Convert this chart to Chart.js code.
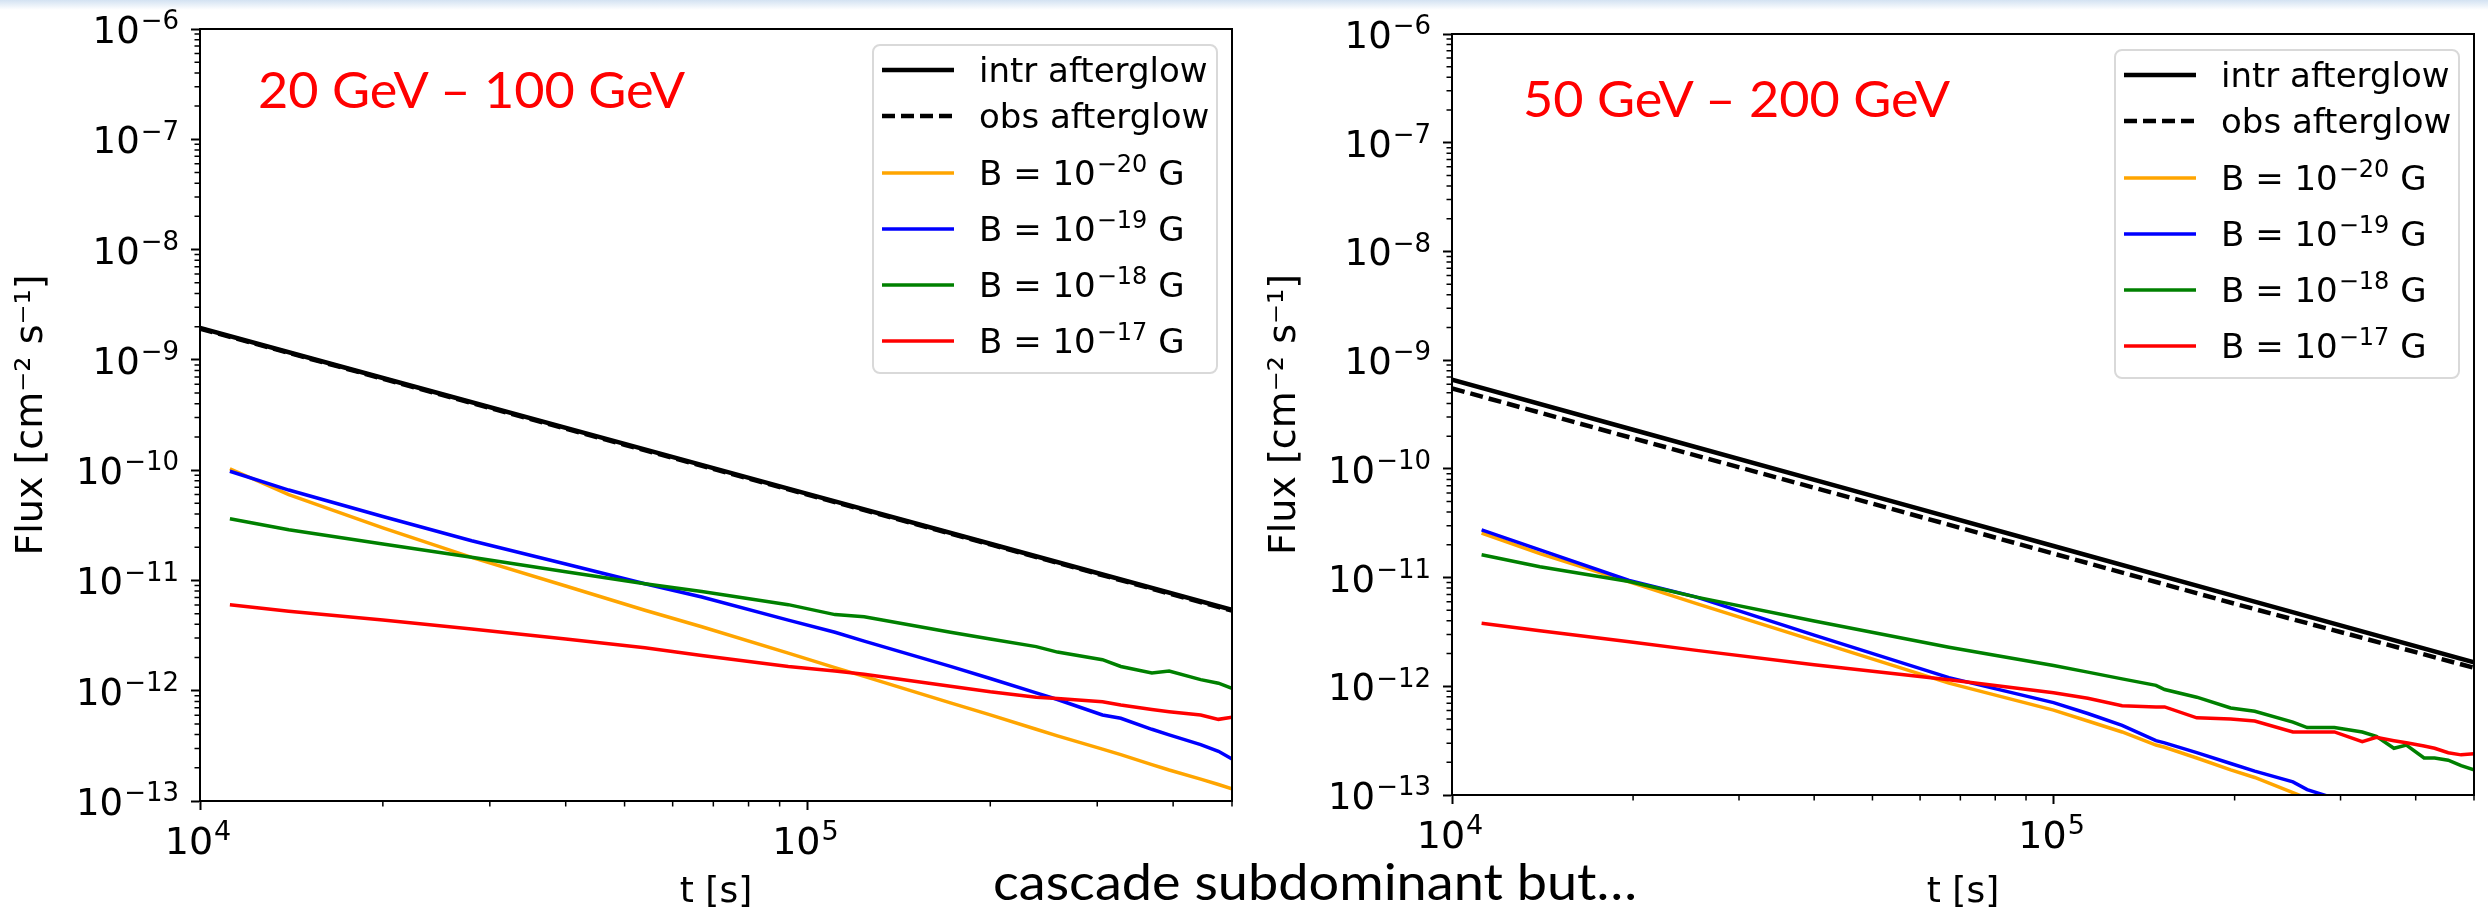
<!DOCTYPE html>
<html>
<head>
<meta charset="utf-8">
<script src="https://cdn.jsdelivr.net/npm/chart.js@4.4.1/dist/chart.umd.min.js"></script>
<style>
  body { margin: 0; width: 2488px; height: 911px; background: #fff; overflow: hidden; position: relative; }
  .strip { position: absolute; left: 0; top: 0; width: 2488px; height: 10px; background: linear-gradient(#d3e2f2, #ffffff); }
  canvas { position: absolute; top: 0; }
  .note { position: absolute; white-space: nowrap; font-family: Lato, "Open Sans", sans-serif; transform-origin: 0 0; }
</style>
</head>
<body>
<div class="strip"></div>
<canvas id="left" width="1260" height="911" style="left:0"></canvas>
<canvas id="right" width="1228" height="911" style="left:1260px"></canvas>
<div class="note" id="lblLeft" style="left:258px; top:64px; font-size:50px; line-height:50px; color:#ff0000">20 GeV – 100 GeV</div>
<div class="note" id="lblRight" style="left:1523px; top:73px; font-size:50px; line-height:50px; color:#ff0000">50 GeV – 200 GeV</div>
<div class="note" id="caption" style="left:993px; top:855px; font-size:51px; line-height:51px; color:#000">cascade subdominant but…</div>
<script>
// tick values
const yDecades = [-13, -12, -11, -10, -9, -8, -7, -6];
const xDecades = [4, 5];
const minorSteps = [2, 3, 4, 5, 6, 7, 8, 9];
const xMax = 5e5;

// legend texts, ^{...} marks the exponent
const labels = ['intr afterglow', 'obs afterglow', 'B = 10^{−20} G', 'B = 10^{−19} G', 'B = 10^{−18} G', 'B = 10^{−17} G'];

// afterglow, both panels
const tAfter = [1e4, 2e4, 5e4, 1e5, 2e5, 5e5];
const leftIntr = [1.95e-9, 6.85e-10, 1.73e-10, 6.10e-11, 2.15e-11, 5.40e-12];
const leftObs = [1.92e-9, 6.75e-10, 1.70e-10, 6.00e-11, 2.12e-11, 5.32e-12];
const rightIntr = [6.61e-10, 2.29e-10, 5.64e-11, 1.95e-11, 6.76e-12, 1.66e-12];
const rightObs = [5.50e-10, 1.91e-10, 4.79e-11, 1.66e-11, 5.75e-12, 1.48e-12];

// 20 GeV - 100 GeV cascades
const tLeft = [11200, 14000, 20000, 28000, 40000, 54000, 67000, 93000, 111000, 124000, 172000,
  200000, 238000, 258000, 306000, 328000, 369000, 394000, 444000, 475000, 500000];
const leftB20 = [1.03e-10, 6.0e-11, 3.0e-11, 1.62e-11, 8.91e-12, 5.37e-12, 3.80e-12, 2.19e-12, 1.62e-12, 1.35e-12, 7.76e-13,
  6.03e-13, 4.47e-13, 3.89e-13, 2.95e-13, 2.63e-13, 2.14e-13, 1.91e-13, 1.58e-13, 1.41e-13, 1.29e-13];
const leftB19 = [9.77e-11, 6.6e-11, 3.8e-11, 2.29e-11, 1.41e-11, 9.33e-12, 7.08e-12, 4.37e-12, 3.39e-12, 2.82e-12, 1.66e-12,
  1.29e-12, 9.55e-13, 8.32e-13, 6.03e-13, 5.62e-13, 4.47e-13, 3.98e-13, 3.24e-13, 2.82e-13, 2.40e-13];
const leftB18 = [3.63e-11, 2.88e-11, 2.14e-11, 1.62e-11, 1.20e-11, 9.33e-12, 7.94e-12, 6.03e-12, 4.90e-12, 4.68e-12, 3.39e-12,
  2.95e-12, 2.51e-12, 2.24e-12, 1.91e-12, 1.66e-12, 1.45e-12, 1.51e-12, 1.26e-12, 1.17e-12, 1.05e-12];
const leftB17 = [6.03e-12, 5.25e-12, 4.37e-12, 3.63e-12, 2.95e-12, 2.45e-12, 2.09e-12, 1.66e-12, 1.51e-12, 1.41e-12, 1.10e-12,
  9.77e-13, 8.71e-13, 8.51e-13, 7.94e-13, 7.41e-13, 6.76e-13, 6.46e-13, 6.03e-13, 5.50e-13, 5.75e-13];

// 50 GeV - 200 GeV cascades
const tRight = [11200, 14000, 19700, 25500, 40000, 67000, 100000, 114000, 130000, 148000, 153000, 173000, 197000,
  216000, 250000, 264000, 293000, 326000, 344000, 368000, 386000, 413000, 430000, 453000, 476000, 500000];
const rightB20 = [2.57e-11, 1.66e-11, 9.12e-12, 5.75e-12, 2.63e-12, 1.07e-12, 6.03e-13, 4.79e-13, 3.80e-13, 2.88e-13, 2.75e-13,
  2.19e-13, 1.70e-13, 1.45e-13, 1.05e-13, 9.33e-14, 7.76e-14, null, null, null, null, null, null, null, null, null];
const rightB19 = [2.75e-11, 1.80e-11, 9.40e-12, 6.61e-12, 2.95e-12, 1.20e-12, 7.08e-13, 5.62e-13, 4.37e-13, 3.16e-13, 3.02e-13,
  2.45e-13, 1.95e-13, 1.66e-13, 1.32e-13, 1.12e-13, 9.33e-14, 7.94e-14, null, null, null, null, null, null, null, null];
const rightB18 = [1.62e-11, 1.26e-11, 9.20e-12, 6.61e-12, 3.98e-12, 2.29e-12, 1.55e-12, 1.35e-12, 1.17e-12, 1.02e-12, 9.33e-13,
  7.94e-13, 6.31e-13, 5.89e-13, 4.68e-13, 4.17e-13, 4.17e-13, 3.80e-13, 3.47e-13, 2.69e-13, 2.88e-13, 2.19e-13, 2.19e-13,
  2.09e-13, 1.86e-13, 1.70e-13];
const rightB17 = [3.80e-12, 3.24e-12, 2.57e-12, 2.14e-12, 1.58e-12, 1.15e-12, 8.71e-13, 7.76e-13, 6.61e-13, 6.46e-13, 6.46e-13,
  5.13e-13, 5.01e-13, 4.79e-13, 3.80e-13, 3.80e-13, 3.80e-13, 3.09e-13, 3.39e-13, 3.16e-13, 3.02e-13, 2.82e-13, 2.69e-13,
  2.45e-13, 2.34e-13, 2.40e-13];

const colors = ['#000000', '#000000', '#ffa500', '#0000ff', '#008000', '#ff0000'];

Chart.defaults.color = '#000';
Chart.defaults.font.family = 'DejaVu Sans';
const FONT = '"DejaVu Sans"';

function isPow10(v) {
  const l = Math.log10(v);
  return Math.abs(l - Math.round(l)) < 1e-6;
}
function expOf(v) {
  return String(Math.round(Math.log10(v))).replace('-', '−');
}
function tickList(decades, top) {
  const out = [];
  decades.forEach(d => {
    const base = Math.pow(10, d);
    out.push({ value: base });
    if (base < top) minorSteps.forEach(m => { if (m * base <= top * 1.0001) out.push({ value: m * base }); });
  });
  return out;
}

// draws "pre" + raised exponent + "post", mathtext style
function richText(ctx, x, y, pre, exp, post, size, align) {
  const small = Math.round(size * 0.7);
  ctx.font = size + 'px ' + FONT;
  const w1 = ctx.measureText(pre).width, w3 = post ? ctx.measureText(post).width : 0;
  ctx.font = small + 'px ' + FONT;
  const w2 = exp ? ctx.measureText(exp).width + 1 : 0;
  const total = w1 + w2 + w3;
  let x0 = x;
  if (align === 'right') x0 = x - total;
  if (align === 'center') x0 = x - total / 2;
  ctx.textAlign = 'left';
  ctx.textBaseline = 'alphabetic';
  ctx.font = size + 'px ' + FONT;
  ctx.fillText(pre, x0, y);
  if (exp) {
    ctx.font = small + 'px ' + FONT;
    ctx.fillText(exp, x0 + w1 + 1, y - size * 0.37);
  }
  if (post) {
    ctx.font = size + 'px ' + FONT;
    ctx.fillText(post, x0 + w1 + w2, y);
  }
}

function series(i, ts, fs, extra) {
  return Object.assign({
    label: labels[i],
    data: ts.map((t, k) => ({ x: t, y: fs[k] })),
    borderColor: colors[i],
    borderWidth: i < 2 ? 4.5 : 3.5,
    pointRadius: 0,
    tension: 0,
    fill: false,
    order: 6 - i
  }, extra || {});
}

// frame, minor ticks, power-of-ten labels and a matplotlib style legend box
const framePlugin = {
  id: 'frame',
  afterDraw(chart) {
    const { ctx, chartArea: a } = chart;
    const xs = chart.scales.x, ys = chart.scales.y;
    ctx.save();
    ctx.strokeStyle = '#000';
    ctx.lineWidth = 1.5;
    ctx.beginPath();
    xs.ticks.forEach(t => {
      if (isPow10(t.value)) return;
      const px = xs.getPixelForValue(t.value);
      ctx.moveTo(px, a.bottom); ctx.lineTo(px, a.bottom + 5.5);
    });
    ys.ticks.forEach(t => {
      if (isPow10(t.value)) return;
      const py = ys.getPixelForValue(t.value);
      ctx.moveTo(a.left, py); ctx.lineTo(a.left - 5.5, py);
    });
    ctx.stroke();
    ctx.lineWidth = 2;
    ctx.strokeRect(a.left, a.top, a.right - a.left, a.bottom - a.top);

    ctx.fillStyle = '#000';
    xs.ticks.forEach(t => {
      if (!isPow10(t.value)) return;
      richText(ctx, xs.getPixelForValue(t.value) - 2, a.bottom + 53, '10', expOf(t.value), '', 38, 'center');
    });
    ys.ticks.forEach(t => {
      if (!isPow10(t.value)) return;
      richText(ctx, a.left - 21, ys.getPixelForValue(t.value) + 14, '10', expOf(t.value), '', 37, 'right');
    });

    // legend
    const w = 344, h = 328;
    const x0 = a.right - 15 - w, y0 = a.top + 16;
    const rows = [25, 71, 128, 184, 240, 296];
    ctx.beginPath();
    ctx.roundRect(x0, y0, w, h, 7);
    ctx.fillStyle = 'rgba(255,255,255,0.85)';
    ctx.fill();
    ctx.strokeStyle = '#d9d9d9';
    ctx.lineWidth = 2;
    ctx.stroke();
    chart.data.datasets.forEach((ds, i) => {
      const y = y0 + rows[i];
      ctx.beginPath();
      ctx.strokeStyle = ds.borderColor;
      ctx.lineWidth = ds.borderWidth;
      ctx.setLineDash(ds.borderDash || []);
      ctx.moveTo(x0 + 9, y); ctx.lineTo(x0 + 81, y);
      ctx.stroke();
      ctx.setLineDash([]);
      ctx.fillStyle = '#000';
      const m = ds.label.match(/^(.*)\^\{(.*)\}(.*)$/);
      if (m) richText(ctx, x0 + 106, y + 12, m[1], m[2], m[3], 34, 'left');
      else richText(ctx, x0 + 106, y + 12, ds.label, '', '', 34, 'left');
    });
    ctx.restore();
  }
};

function makeChart(id, pad, yWidth, xHeight, yTitlePad, sets) {
  return new Chart(document.getElementById(id), {
    type: 'line',
    data: { datasets: sets },
    plugins: [framePlugin],
    options: {
      responsive: false,
      animation: false,
      layout: { padding: pad },
      plugins: { legend: { display: false }, tooltip: { enabled: false } },
      scales: {
        x: {
          type: 'logarithmic',
          min: 1e4,
          max: xMax,
          afterFit: s => { s.height = xHeight; },
          afterBuildTicks: s => { s.ticks = tickList(xDecades, xMax); },
          border: { display: true, color: '#000', width: 2 },
          grid: {
            drawOnChartArea: false, drawTicks: true, tickLength: 9, tickWidth: 2,
            tickColor: c => (c.tick && isPow10(c.tick.value)) ? '#000' : 'rgba(0,0,0,0)'
          },
          ticks: { autoSkip: false, maxRotation: 0, callback: () => '' },
          title: { display: true, text: 't [s]', font: { size: 36, lineHeight: 1 }, padding: { top: 0, bottom: 0 } }
        },
        y: {
          type: 'logarithmic',
          min: 1e-13,
          max: 1e-6,
          afterFit: s => { s.width = yWidth; },
          afterBuildTicks: s => { s.ticks = tickList(yDecades, 1e-6); },
          border: { display: true, color: '#000', width: 2 },
          grid: {
            drawOnChartArea: false, drawTicks: true, tickLength: 9, tickWidth: 2,
            tickColor: c => (c.tick && isPow10(c.tick.value)) ? '#000' : 'rgba(0,0,0,0)'
          },
          ticks: { autoSkip: false, callback: () => '' },
          title: { display: true, text: 'Flux [cm⁻² s⁻¹]', font: { size: 38, lineHeight: 1 }, padding: { top: yTitlePad, bottom: 0 } }
        }
      }
    }
  });
}

const dash = { borderDash: [13, 6] };

makeChart('left', { top: 29, right: 28, left: 0, bottom: 0 }, 200, 110, 13, [
  series(0, tAfter, leftIntr),
  series(1, tAfter, leftObs, dash),
  series(2, tLeft, leftB20),
  series(3, tLeft, leftB19),
  series(4, tLeft, leftB18),
  series(5, tLeft, leftB17)
]);

makeChart('right', { top: 34, right: 14, left: 0, bottom: 0 }, 192, 116, 6, [
  series(0, tAfter, rightIntr),
  series(1, tAfter, rightObs, dash),
  series(2, tRight, rightB20),
  series(3, tRight, rightB19),
  series(4, tRight, rightB18),
  series(5, tRight, rightB17)
]);

// squeeze the slide texts to the width they take in the picture
[['lblLeft', 427], ['lblRight', 427], ['caption', 644]].forEach(([id, target]) => {
  const el = document.getElementById(id);
  const w = el.getBoundingClientRect().width;
  el.style.transform = 'scaleX(' + (target / w) + ')';
});
</script>
</body>
</html>
